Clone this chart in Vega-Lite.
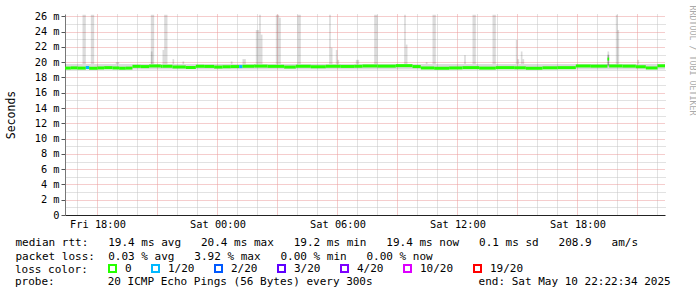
{
  "$schema": "https://vega.github.io/schema/vega-lite/v6.json",
  "width": 600,
  "height": 201,
  "padding": {"left": 5, "top": 5, "right": 0, "bottom": 0},
  "background": "white",
  "config": {
    "view": {"stroke": null},
    "font": "DejaVu Sans Mono"
  },
  "title": {
    "text": "probe:\u00a0\u00a0\u00a0\u00a0\u00a0\u00a0\u00a0\u00a020 ICMP Echo Pings (56 Bytes) every 300s\u00a0\u00a0\u00a0\u00a0\u00a0\u00a0\u00a0\u00a0\u00a0\u00a0\u00a0\u00a0\u00a0\u00a0\u00a0\u00a0end: Sat May 10 22:22:34 2025",
    "orient": "bottom",
    "anchor": "start",
    "frame": "group",
    "dx": -50,
    "offset": 0,
    "font": "DejaVu Sans Mono",
    "fontSize": 11,
    "fontWeight": "normal",
    "color": "black"
  },
  "datasets": {
    "smoke": [
      {"t": "2025-05-09T16:15", "t2": "2025-05-10T22:25", "lo": 19.05, "hi": 19.75},
      {"t": "2025-05-09T17:15", "t2": "2025-05-09T17:25", "lo": 19.75, "hi": 26.2},
      {"t": "2025-05-09T17:40", "t2": "2025-05-09T17:50", "lo": 19.75, "hi": 26.2},
      {"t": "2025-05-09T18:55", "t2": "2025-05-09T19:05", "lo": 19.75, "hi": 20.0},
      {"t": "2025-05-09T20:40", "t2": "2025-05-09T20:50", "lo": 19.75, "hi": 26.2},
      {"t": "2025-05-09T20:40", "t2": "2025-05-09T20:45", "lo": 19.75, "hi": 21.4},
      {"t": "2025-05-09T21:15", "t2": "2025-05-09T21:20", "lo": 19.75, "hi": 21.6},
      {"t": "2025-05-09T21:20", "t2": "2025-05-09T21:30", "lo": 19.75, "hi": 26.2},
      {"t": "2025-05-09T21:45", "t2": "2025-05-09T21:50", "lo": 19.75, "hi": 20.4},
      {"t": "2025-05-09T22:15", "t2": "2025-05-09T22:20", "lo": 19.75, "hi": 20.1},
      {"t": "2025-05-10T00:40", "t2": "2025-05-10T00:45", "lo": 19.75, "hi": 20.1},
      {"t": "2025-05-10T01:15", "t2": "2025-05-10T01:25", "lo": 19.75, "hi": 20.4},
      {"t": "2025-05-10T01:55", "t2": "2025-05-10T02:05", "lo": 19.75, "hi": 24.2},
      {"t": "2025-05-10T02:05", "t2": "2025-05-10T02:10", "lo": 19.75, "hi": 26.2},
      {"t": "2025-05-10T02:10", "t2": "2025-05-10T02:15", "lo": 19.75, "hi": 23.6},
      {"t": "2025-05-10T02:55", "t2": "2025-05-10T03:05", "lo": 19.75, "hi": 26.2},
      {"t": "2025-05-10T03:05", "t2": "2025-05-10T03:10", "lo": 19.75, "hi": 25.8},
      {"t": "2025-05-10T04:00", "t2": "2025-05-10T04:10", "lo": 19.75, "hi": 26.2},
      {"t": "2025-05-10T05:35", "t2": "2025-05-10T05:40", "lo": 19.75, "hi": 26.2},
      {"t": "2025-05-10T05:40", "t2": "2025-05-10T05:45", "lo": 19.75, "hi": 21.9},
      {"t": "2025-05-10T05:55", "t2": "2025-05-10T06:00", "lo": 19.75, "hi": 21.6},
      {"t": "2025-05-10T06:00", "t2": "2025-05-10T06:05", "lo": 19.75, "hi": 20.3},
      {"t": "2025-05-10T06:55", "t2": "2025-05-10T07:05", "lo": 19.75, "hi": 20.3},
      {"t": "2025-05-10T07:50", "t2": "2025-05-10T08:00", "lo": 19.75, "hi": 26.2},
      {"t": "2025-05-10T09:20", "t2": "2025-05-10T09:25", "lo": 19.75, "hi": 26.2},
      {"t": "2025-05-10T09:25", "t2": "2025-05-10T09:30", "lo": 19.75, "hi": 22.3},
      {"t": "2025-05-10T10:25", "t2": "2025-05-10T10:30", "lo": 19.75, "hi": 20.0},
      {"t": "2025-05-10T10:45", "t2": "2025-05-10T10:55", "lo": 19.75, "hi": 26.2},
      {"t": "2025-05-10T12:20", "t2": "2025-05-10T12:25", "lo": 19.75, "hi": 20.9},
      {"t": "2025-05-10T12:45", "t2": "2025-05-10T12:55", "lo": 19.75, "hi": 26.2},
      {"t": "2025-05-10T13:45", "t2": "2025-05-10T13:55", "lo": 19.75, "hi": 26.2},
      {"t": "2025-05-10T14:55", "t2": "2025-05-10T15:00", "lo": 19.75, "hi": 22.9},
      {"t": "2025-05-10T15:00", "t2": "2025-05-10T15:05", "lo": 19.75, "hi": 20.4},
      {"t": "2025-05-10T15:10", "t2": "2025-05-10T15:15", "lo": 19.75, "hi": 21.4},
      {"t": "2025-05-10T15:15", "t2": "2025-05-10T15:20", "lo": 19.75, "hi": 20.4},
      {"t": "2025-05-10T19:30", "t2": "2025-05-10T19:35", "lo": 19.4, "hi": 21.4},
      {"t": "2025-05-10T19:30", "t2": "2025-05-10T19:35", "lo": 19.5, "hi": 21.0},
      {"t": "2025-05-10T19:30", "t2": "2025-05-10T19:35", "lo": 19.6, "hi": 20.9},
      {"t": "2025-05-10T19:55", "t2": "2025-05-10T20:00", "lo": 19.75, "hi": 26.2},
      {"t": "2025-05-10T20:00", "t2": "2025-05-10T20:05", "lo": 19.75, "hi": 24.2},
      {"t": "2025-05-10T21:00", "t2": "2025-05-10T21:05", "lo": 19.75, "hi": 20.3}
    ],
    "median": [
      {"t": "2025-05-09T16:15", "t2": "2025-05-09T16:40", "v": 19.22, "loss": "0"},
      {"t": "2025-05-09T16:40", "t2": "2025-05-09T17:00", "v": 19.25, "loss": "0"},
      {"t": "2025-05-09T17:00", "t2": "2025-05-09T17:25", "v": 19.22, "loss": "0"},
      {"t": "2025-05-09T17:25", "t2": "2025-05-09T17:35", "v": 19.3, "loss": "1/20"},
      {"t": "2025-05-09T17:35", "t2": "2025-05-09T18:00", "v": 19.2, "loss": "0"},
      {"t": "2025-05-09T18:00", "t2": "2025-05-09T18:20", "v": 19.24, "loss": "0"},
      {"t": "2025-05-09T18:20", "t2": "2025-05-09T18:45", "v": 19.28, "loss": "0"},
      {"t": "2025-05-09T18:45", "t2": "2025-05-09T19:05", "v": 19.24, "loss": "0"},
      {"t": "2025-05-09T19:05", "t2": "2025-05-09T19:25", "v": 19.2, "loss": "0"},
      {"t": "2025-05-09T19:25", "t2": "2025-05-09T19:45", "v": 19.22, "loss": "0"},
      {"t": "2025-05-09T19:45", "t2": "2025-05-09T20:10", "v": 19.45, "loss": "0"},
      {"t": "2025-05-09T20:10", "t2": "2025-05-09T20:35", "v": 19.42, "loss": "0"},
      {"t": "2025-05-09T20:35", "t2": "2025-05-09T21:10", "v": 19.5, "loss": "0"},
      {"t": "2025-05-09T21:10", "t2": "2025-05-09T21:15", "v": 19.45, "loss": "0"},
      {"t": "2025-05-09T21:15", "t2": "2025-05-09T21:45", "v": 19.46, "loss": "0"},
      {"t": "2025-05-09T21:45", "t2": "2025-05-09T22:25", "v": 19.37, "loss": "0"},
      {"t": "2025-05-09T22:25", "t2": "2025-05-09T22:55", "v": 19.3, "loss": "0"},
      {"t": "2025-05-09T22:55", "t2": "2025-05-09T23:20", "v": 19.46, "loss": "0"},
      {"t": "2025-05-09T23:20", "t2": "2025-05-09T23:50", "v": 19.44, "loss": "0"},
      {"t": "2025-05-09T23:50", "t2": "2025-05-10T00:15", "v": 19.36, "loss": "0"},
      {"t": "2025-05-10T00:15", "t2": "2025-05-10T00:40", "v": 19.4, "loss": "0"},
      {"t": "2025-05-10T00:40", "t2": "2025-05-10T01:05", "v": 19.42, "loss": "0"},
      {"t": "2025-05-10T01:05", "t2": "2025-05-10T01:15", "v": 19.42, "loss": "1/20"},
      {"t": "2025-05-10T01:15", "t2": "2025-05-10T01:50", "v": 19.46, "loss": "0"},
      {"t": "2025-05-10T01:50", "t2": "2025-05-10T02:30", "v": 19.48, "loss": "0"},
      {"t": "2025-05-10T02:30", "t2": "2025-05-10T03:20", "v": 19.45, "loss": "0"},
      {"t": "2025-05-10T03:20", "t2": "2025-05-10T03:55", "v": 19.36, "loss": "0"},
      {"t": "2025-05-10T03:55", "t2": "2025-05-10T04:40", "v": 19.46, "loss": "0"},
      {"t": "2025-05-10T04:40", "t2": "2025-05-10T05:25", "v": 19.4, "loss": "0"},
      {"t": "2025-05-10T05:25", "t2": "2025-05-10T06:10", "v": 19.46, "loss": "0"},
      {"t": "2025-05-10T06:10", "t2": "2025-05-10T06:50", "v": 19.44, "loss": "0"},
      {"t": "2025-05-10T06:50", "t2": "2025-05-10T07:15", "v": 19.46, "loss": "0"},
      {"t": "2025-05-10T07:15", "t2": "2025-05-10T08:00", "v": 19.5, "loss": "0"},
      {"t": "2025-05-10T08:00", "t2": "2025-05-10T08:55", "v": 19.48, "loss": "0"},
      {"t": "2025-05-10T08:55", "t2": "2025-05-10T09:45", "v": 19.54, "loss": "0"},
      {"t": "2025-05-10T09:45", "t2": "2025-05-10T10:10", "v": 19.42, "loss": "0"},
      {"t": "2025-05-10T10:10", "t2": "2025-05-10T10:50", "v": 19.24, "loss": "0"},
      {"t": "2025-05-10T10:50", "t2": "2025-05-10T11:35", "v": 19.2, "loss": "0"},
      {"t": "2025-05-10T11:35", "t2": "2025-05-10T12:15", "v": 19.24, "loss": "0"},
      {"t": "2025-05-10T12:15", "t2": "2025-05-10T13:05", "v": 19.28, "loss": "0"},
      {"t": "2025-05-10T13:05", "t2": "2025-05-10T13:55", "v": 19.22, "loss": "0"},
      {"t": "2025-05-10T13:55", "t2": "2025-05-10T14:50", "v": 19.28, "loss": "0"},
      {"t": "2025-05-10T14:50", "t2": "2025-05-10T15:25", "v": 19.26, "loss": "0"},
      {"t": "2025-05-10T15:25", "t2": "2025-05-10T16:15", "v": 19.2, "loss": "0"},
      {"t": "2025-05-10T16:15", "t2": "2025-05-10T17:00", "v": 19.26, "loss": "0"},
      {"t": "2025-05-10T17:00", "t2": "2025-05-10T17:55", "v": 19.28, "loss": "0"},
      {"t": "2025-05-10T17:55", "t2": "2025-05-10T18:40", "v": 19.5, "loss": "0"},
      {"t": "2025-05-10T18:40", "t2": "2025-05-10T19:30", "v": 19.48, "loss": "0"},
      {"t": "2025-05-10T19:30", "t2": "2025-05-10T19:35", "v": 20.4, "loss": "0"},
      {"t": "2025-05-10T19:35", "t2": "2025-05-10T20:15", "v": 19.5, "loss": "0"},
      {"t": "2025-05-10T20:15", "t2": "2025-05-10T20:55", "v": 19.48, "loss": "0"},
      {"t": "2025-05-10T20:55", "t2": "2025-05-10T21:25", "v": 19.4, "loss": "0"},
      {"t": "2025-05-10T21:25", "t2": "2025-05-10T22:00", "v": 19.24, "loss": "0"},
      {"t": "2025-05-10T22:00", "t2": "2025-05-10T22:25", "v": 19.52, "loss": "0"}
    ]
  },
  "layer": [
    {
      "data": {"name": "smoke"},
      "mark": {"type": "rect", "fill": "#000000", "opacity": 0.14, "clip": true},
      "encoding": {
        "x": {
          "field": "t", "type": "temporal",
          "scale": {"domain": [
            {"year": 2025, "month": 5, "date": 9, "hours": 16, "minutes": 22, "seconds": 34},
            {"year": 2025, "month": 5, "date": 10, "hours": 22, "minutes": 22, "seconds": 34}
          ]},
          "axis": {
            "orient": "bottom",
            "values": [
              {"year": 2025, "month": 5, "date": 9, "hours": 17},
              {"year": 2025, "month": 5, "date": 9, "hours": 19},
              {"year": 2025, "month": 5, "date": 9, "hours": 20},
              {"year": 2025, "month": 5, "date": 9, "hours": 22},
              {"year": 2025, "month": 5, "date": 9, "hours": 23},
              {"year": 2025, "month": 5, "date": 10, "hours": 1},
              {"year": 2025, "month": 5, "date": 10, "hours": 2},
              {"year": 2025, "month": 5, "date": 10, "hours": 4},
              {"year": 2025, "month": 5, "date": 10, "hours": 5},
              {"year": 2025, "month": 5, "date": 10, "hours": 7},
              {"year": 2025, "month": 5, "date": 10, "hours": 8},
              {"year": 2025, "month": 5, "date": 10, "hours": 10},
              {"year": 2025, "month": 5, "date": 10, "hours": 11},
              {"year": 2025, "month": 5, "date": 10, "hours": 13},
              {"year": 2025, "month": 5, "date": 10, "hours": 14},
              {"year": 2025, "month": 5, "date": 10, "hours": 16},
              {"year": 2025, "month": 5, "date": 10, "hours": 17},
              {"year": 2025, "month": 5, "date": 10, "hours": 19},
              {"year": 2025, "month": 5, "date": 10, "hours": 20},
              {"year": 2025, "month": 5, "date": 10, "hours": 22}
            ],
            "tickCount": 100,
            "grid": true, "gridColor": "#c4c4c4", "gridDash": [1, 1],
            "labels": false, "ticks": false, "domain": false, "title": null
          }
        },
        "x2": {"field": "t2"},
        "y": {
          "field": "lo", "type": "quantitative",
          "scale": {"domain": [0, 26.3], "nice": false},
          "axis": {
            "orient": "right",
            "values": [1, 3, 5, 7, 9, 11, 13, 15, 17, 19, 21, 23, 25],
            "tickCount": 50,
            "grid": true, "gridColor": "#c4c4c4", "gridDash": [1, 1],
            "labels": false, "ticks": false, "domain": false,
            "title": "RRDTOOL / TOBI OETIKER", "titleAngle": 90,
            "titleFont": "DejaVu Sans Mono", "titleFontSize": 8.3, "titleFontWeight": "normal",
            "titleColor": "#aaaaaa", "titleX": 22, "titleY": 46, "titleAlign": "center"
          }
        },
        "y2": {"field": "hi"}
      }
    },
    {
      "data": {"name": "median"},
      "mark": {"type": "rule", "strokeWidth": 3, "clip": true},
      "encoding": {
        "x": {
          "field": "t", "type": "temporal",
          "axis": {
            "orient": "bottom",
            "values": [
              {"year": 2025, "month": 5, "date": 9, "hours": 18},
              {"year": 2025, "month": 5, "date": 9, "hours": 21},
              {"year": 2025, "month": 5, "date": 10, "hours": 0},
              {"year": 2025, "month": 5, "date": 10, "hours": 3},
              {"year": 2025, "month": 5, "date": 10, "hours": 6},
              {"year": 2025, "month": 5, "date": 10, "hours": 9},
              {"year": 2025, "month": 5, "date": 10, "hours": 12},
              {"year": 2025, "month": 5, "date": 10, "hours": 15},
              {"year": 2025, "month": 5, "date": 10, "hours": 18},
              {"year": 2025, "month": 5, "date": 10, "hours": 21}
            ],
            "tickCount": 100,
            "format": "\u0025a \u0025H:\u0025M",
            "labelExpr": "hours(datum.value) \u0025 6 == 0 ? datum.label : ''",
            "labelOverlap": false, "labelFlush": false,
            "grid": true, "gridColor": "#eb9a9a", "gridDash": [1, 1],
            "labelFont": "DejaVu Sans Mono", "labelFontSize": 10.3, "labelColor": "black", "labelPadding": 4,
            "ticks": false, "domainColor": "#222222",
            "title": [
              "median rtt:\u00a0\u00a0\u00a019.4 ms avg\u00a0\u00a0\u00a020.4 ms max\u00a0\u00a0\u00a019.2 ms min\u00a0\u00a0\u00a019.4 ms now\u00a0\u00a0\u00a00.1 ms sd\u00a0\u00a0\u00a0208.9\u00a0\u00a0\u00a0am/s",
              "packet loss:\u00a0\u00a00.03 \u0025 avg\u00a0\u00a0\u00a03.92 \u0025 max\u00a0\u00a0\u00a00.00 \u0025 min\u00a0\u00a0\u00a00.00 \u0025 now"
            ],
            "titleX": -50, "titleY": 30, "titleAlign": "left", "titleBaseline": "alphabetic",
            "titleFont": "DejaVu Sans Mono", "titleFontSize": 11, "titleFontWeight": "normal",
            "titleColor": "black", "titleLineHeight": 14
          }
        },
        "x2": {"field": "t2"},
        "y": {
          "field": "v", "type": "quantitative",
          "axis": {
            "orient": "left",
            "values": [0, 2, 4, 6, 8, 10, 12, 14, 16, 18, 20, 22, 24, 26],
            "tickCount": 50,
            "labelExpr": "datum.value == 0 ? '0' : datum.value + ' m'",
            "labelOverlap": false,
            "grid": true, "gridColor": "#eb9a9a", "gridDash": [1, 1],
            "labelFont": "DejaVu Sans Mono", "labelFontSize": 10.3, "labelColor": "black", "labelPadding": 2,
            "tickSize": 4, "tickColor": "#555555", "domainColor": "#777777",
            "title": "Seconds", "titleFont": "DejaVu Sans Mono", "titleFontSize": 11.5,
            "titleFontWeight": "normal", "titleColor": "black", "titlePadding": 18
          }
        },
        "color": {
          "field": "loss", "type": "nominal",
          "scale": {
            "domain": ["0", "1/20", "2/20", "3/20", "4/20", "10/20", "19/20"],
            "range": ["#26ff00", "#00b8ff", "#0059ff", "#5e00ff", "#7e00ff", "#dd00ff", "#ff0000"]
          },
          "legend": {
            "title": "loss color:", "orient": "none", "legendX": -50, "legendY": 249,
            "direction": "horizontal", "titleOrient": "left",
            "titleFont": "DejaVu Sans Mono", "titleFontSize": 11, "titleFontWeight": "normal", "titleColor": "black",
            "titlePadding": 19, "padding": 0,
            "labelFont": "DejaVu Sans Mono", "labelFontSize": 11, "labelColor": "black",
            "labelOffset": 7, "columnPadding": 16,
            "symbolType": "square", "symbolSize": 49, "symbolStrokeWidth": 2
          }
        }
      }
    }
  ],
  "resolve": {"axis": {"x": "independent", "y": "independent"}}
}
